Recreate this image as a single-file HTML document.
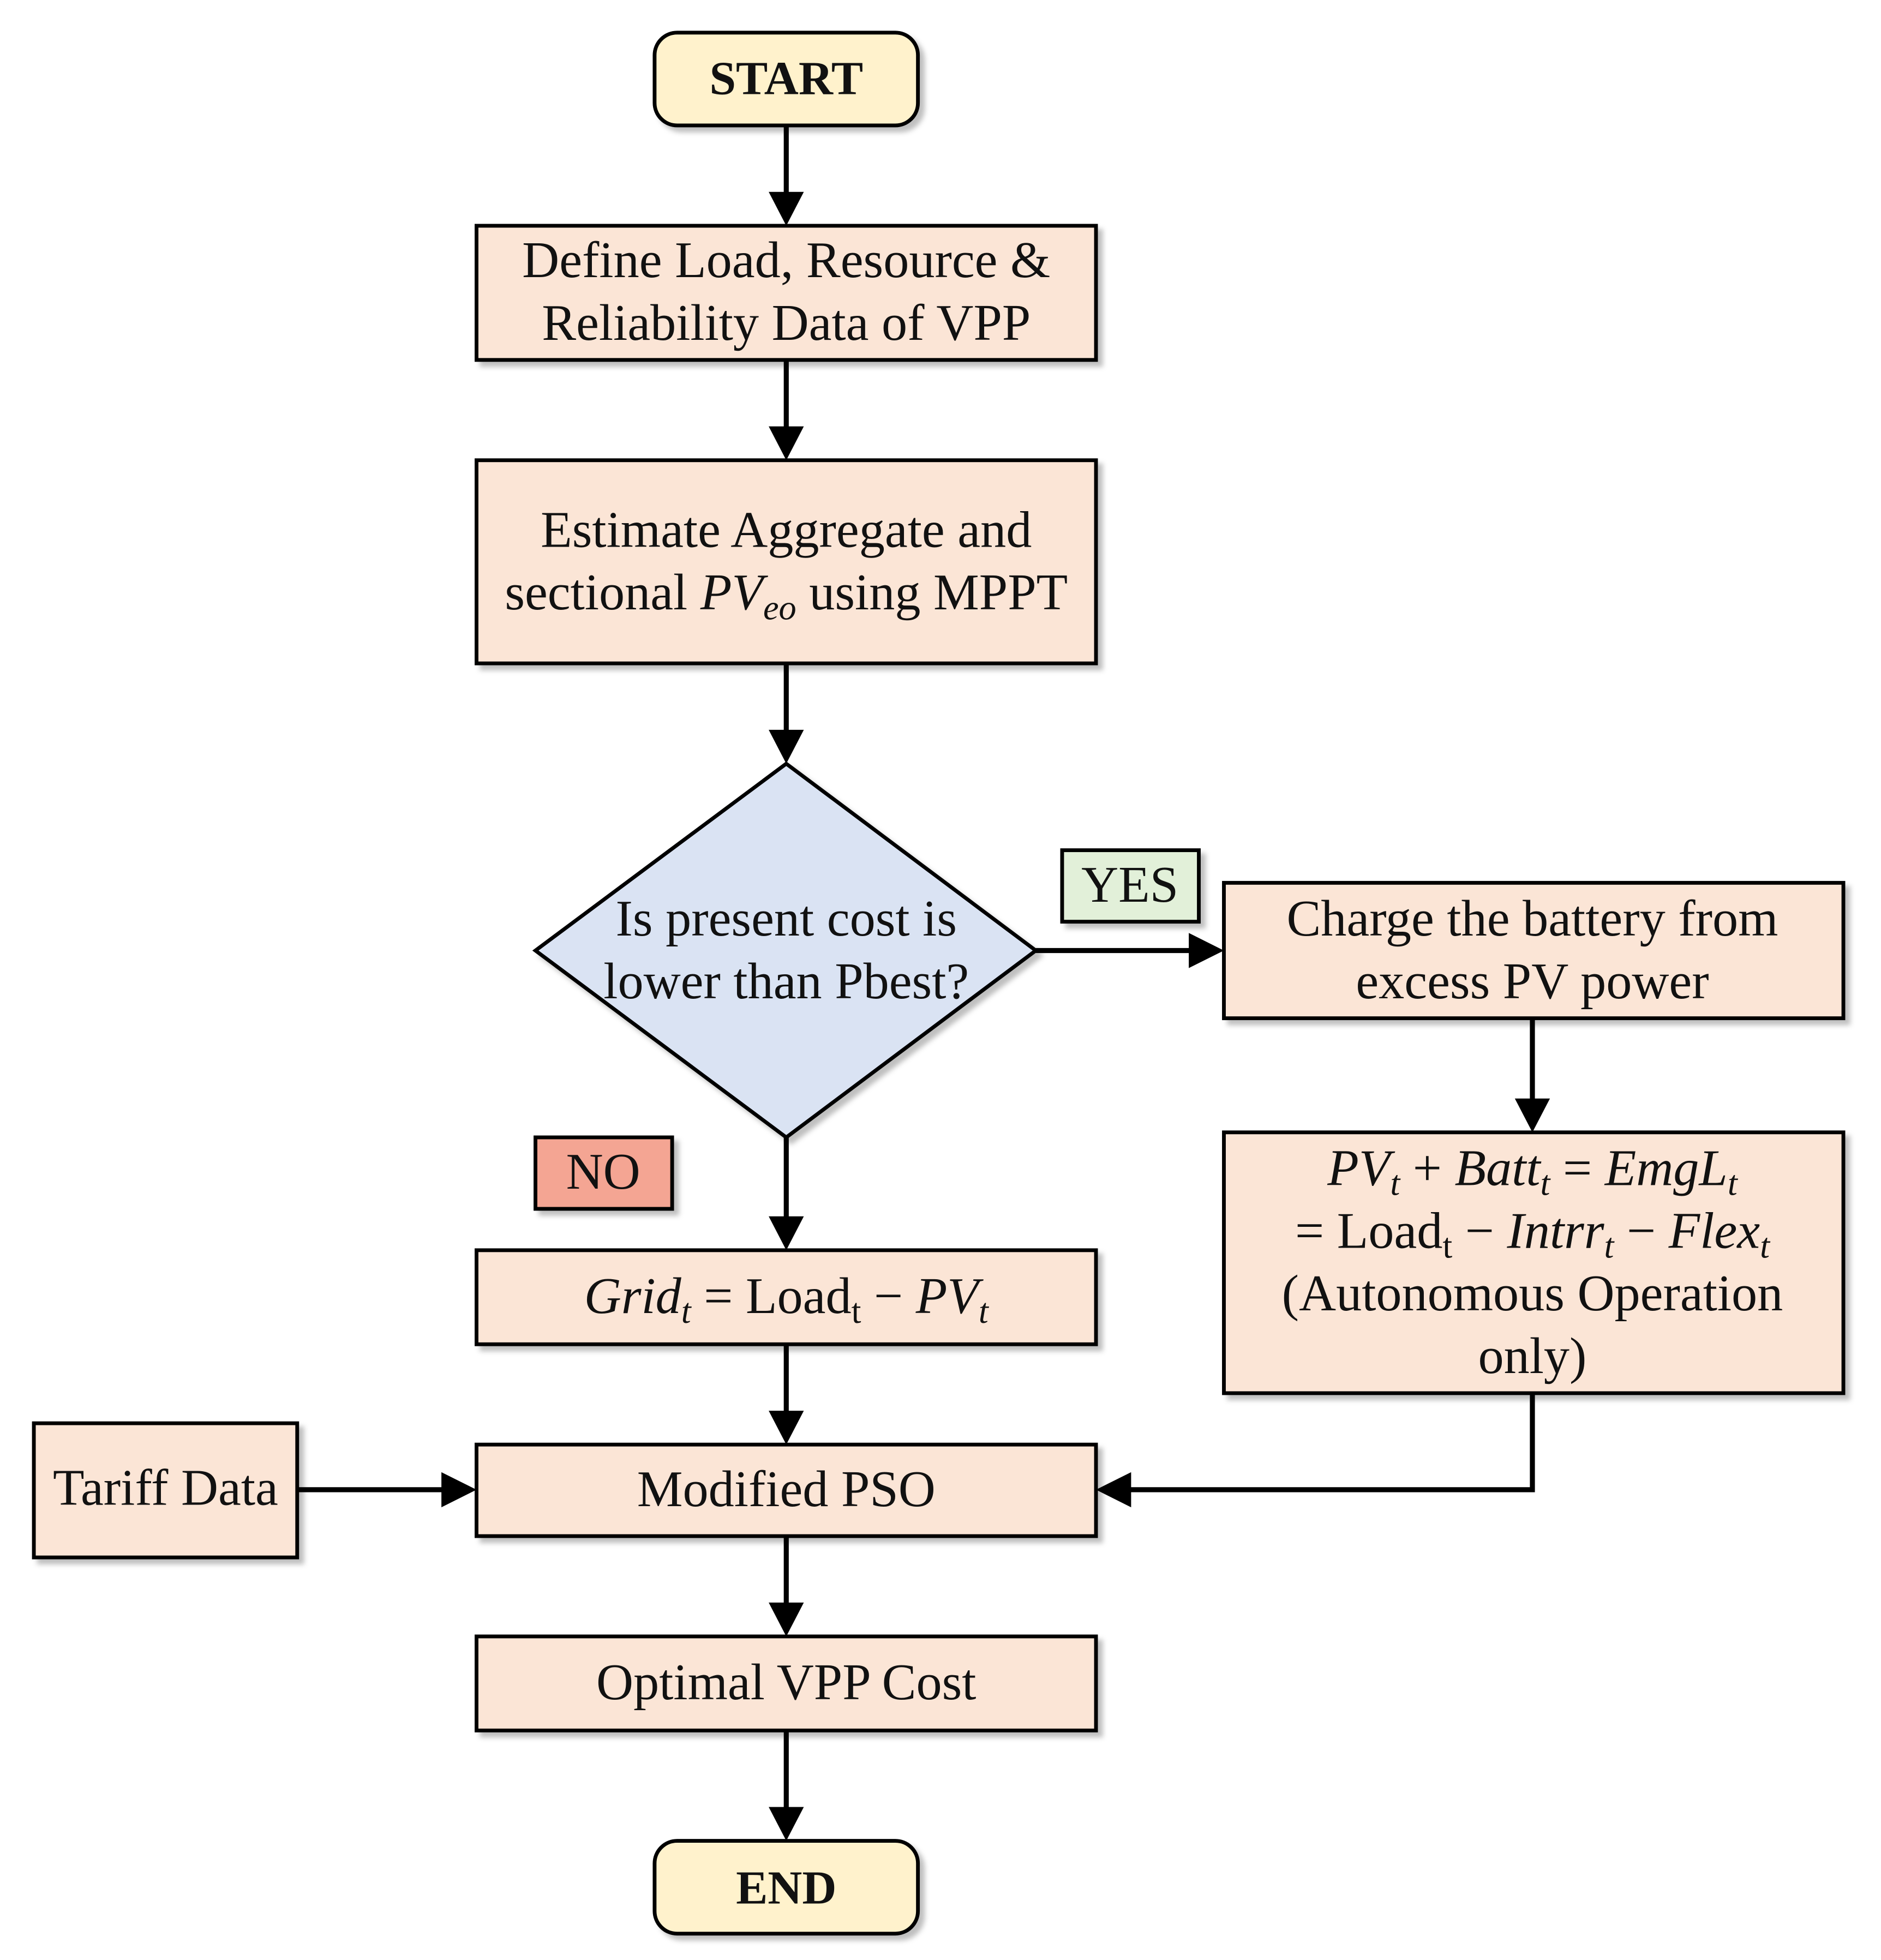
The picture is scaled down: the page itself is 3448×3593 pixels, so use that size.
<!DOCTYPE html>
<html><head><meta charset="utf-8"><style>
html,body{margin:0;padding:0;background:#fff;}
svg{display:block;}
text{font-family:"Liberation Serif",serif;fill:#111;}
</style></head><body>
<svg width="3448" height="3593" viewBox="0 0 1500 1563" xmlns="http://www.w3.org/2000/svg">
<defs>
<filter id="sh" x="-5%" y="-5%" width="115%" height="120%"><feDropShadow dx="4" dy="4" stdDeviation="2" flood-color="#000" flood-opacity="0.25"/></filter>
</defs>
<g stroke="#000" stroke-width="4" fill="none">
<line x1="627" y1="100" x2="627" y2="155"/>
<line x1="627" y1="287" x2="627" y2="342"/>
<line x1="627" y1="529" x2="627" y2="584"/>
<line x1="627" y1="907" x2="627" y2="972"/>
<line x1="826" y1="758" x2="952" y2="758"/>
<line x1="1222" y1="812" x2="1222" y2="878"/>
<line x1="627" y1="1072" x2="627" y2="1127"/>
<line x1="237" y1="1188" x2="355" y2="1188"/>
<polyline points="1222,1111 1222,1188 900,1188"/>
<line x1="627" y1="1225" x2="627" y2="1280"/>
<line x1="627" y1="1380" x2="627" y2="1443"/>
</g>
<g fill="#000">
<polygon points="613,153 641,153 627,180"/>
<polygon points="613,340 641,340 627,367"/>
<polygon points="613,582 641,582 627,609"/>
<polygon points="613,970 641,970 627,997"/>
<polygon points="948,744 948,772 976,758"/>
<polygon points="1208,876 1236,876 1222,903"/>
<polygon points="613,1125 641,1125 627,1152"/>
<polygon points="352,1174 352,1202 380,1188"/>
<polygon points="902,1174 902,1202 874,1188"/>
<polygon points="613,1278 641,1278 627,1305"/>
<polygon points="613,1441 641,1441 627,1468"/>
</g>
<g stroke="#000" stroke-width="3" filter="url(#sh)">
<rect x="522" y="26" width="210" height="74" rx="18" fill="#FFF2CC"/>
<rect x="380" y="180" width="494" height="107" fill="#FBE5D6"/>
<rect x="380" y="367" width="494" height="162" fill="#FBE5D6"/>
<polygon points="627,609 826,758 627,907 427,758" fill="#DAE3F3"/>
<rect x="847" y="678" width="109" height="57" fill="#E2F0D9"/>
<rect x="976" y="704" width="494" height="108" fill="#FBE5D6"/>
<rect x="976" y="903" width="494" height="208" fill="#FBE5D6"/>
<rect x="427" y="907" width="109" height="57" fill="#F4A593"/>
<rect x="380" y="997" width="494" height="75" fill="#FBE5D6"/>
<rect x="27" y="1135" width="210" height="107" fill="#FBE5D6"/>
<rect x="380" y="1152" width="494" height="73" fill="#FBE5D6"/>
<rect x="380" y="1305" width="494" height="75" fill="#FBE5D6"/>
<rect x="522" y="1468" width="210" height="74" rx="18" fill="#FFF2CC"/>
</g>
<g font-size="41" text-anchor="middle">
<text x="627" y="75" font-weight="bold" font-size="38">START</text>
<text x="627" y="221">Define Load, Resource &amp;</text>
<text x="627" y="271">Reliability Data of VPP</text>
<text x="627" y="436">Estimate Aggregate and</text>
<text x="627" y="486">sectional <tspan font-style="italic">PV</tspan><tspan font-style="italic" font-size="28" dy="8">eo</tspan><tspan dy="-8"> using MPPT</tspan></text>
<text x="627" y="746">Is present cost is</text>
<text x="627" y="796">lower than Pbest?</text>
<text x="901" y="719">YES</text>
<text x="1222" y="746">Charge the battery from</text>
<text x="1222" y="796">excess  PV power</text>
<text x="1222" y="945" font-style="italic">PV<tspan font-size="28" dy="8">t</tspan><tspan dy="-8" font-style="normal"> + </tspan>Batt<tspan font-size="28" dy="8">t</tspan><tspan dy="-8" font-style="normal"> = </tspan>EmgL<tspan font-size="28" dy="8">t</tspan></text>
<text x="1222" y="995">= Load<tspan font-size="28" dy="8">t</tspan><tspan dy="-8"> − </tspan><tspan font-style="italic">Intrr</tspan><tspan font-size="28" dy="8" font-style="italic">t</tspan><tspan dy="-8"> − </tspan><tspan font-style="italic">Flex</tspan><tspan font-size="28" dy="8" font-style="italic">t</tspan></text>
<text x="1222" y="1045">(Autonomous Operation</text>
<text x="1222" y="1095">only)</text>
<text x="481" y="948">NO</text>
<text x="627" y="1047"><tspan font-style="italic">Grid</tspan><tspan font-size="28" dy="8" font-style="italic">t</tspan><tspan dy="-8"> = Load</tspan><tspan font-size="28" dy="8">t</tspan><tspan dy="-8"> − </tspan><tspan font-style="italic">PV</tspan><tspan font-size="28" dy="8" font-style="italic">t</tspan></text>
<text x="132" y="1200">Tariff Data</text>
<text x="627" y="1201">Modified PSO</text>
<text x="627" y="1355">Optimal VPP Cost</text>
<text x="627" y="1518" font-weight="bold" font-size="38">END</text>
</g>
</svg>
</body></html>
